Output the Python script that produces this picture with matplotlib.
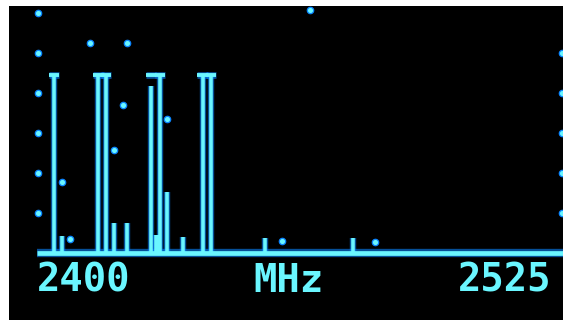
import matplotlib
matplotlib.use("Agg")
import matplotlib.pyplot as plt

# ---- data (frequency in MHz, level in display rows above baseline) ----
tall_freqs = [2403.9, 2414.6, 2416.5, 2429.6, 2440.0, 2442.0]
tall_levels = [44.5, 44.5, 44.5, 44.5, 44.5, 44.5]
mid_freqs = [2427.4]
mid_levels = [41.8]
hold_freqs = [2403.9, 2414.6, 2416.5, 2427.4, 2429.6, 2440.0, 2442.0]
hold_levels = [44.5, 44.5, 44.5, 44.5, 44.5, 44.5, 44.5]
small_freqs = [2405.8, 2418.4, 2421.6, 2428.6, 2429.1, 2431.3, 2435.2, 2455.1, 2476.5]
small_levels = [4.2, 7.5, 7.5, 4.5, 4.5, 15.2, 4.0, 3.7, 3.7]
dot_freqs = [2412.6, 2421.6, 2420.6, 2418.4, 2431.3, 2405.8, 2407.8, 2459.2, 2481.8, 2466.0]
dot_levels = [52.5, 52.5, 37.0, 25.7, 33.5, 17.7, 3.5, 3.0, 2.7, 60.7]
scale_levels_left = [10, 20, 30, 40, 50, 60]
scale_levels_right = [10, 20, 30, 40, 50]
f_start, f_end = 2400, 2525
unit_label = "MHz"

CORE = "#6af6ff"
GLOW = "#0a84ff"

fig = plt.figure(figsize=(5.63, 3.20), dpi=100)
fig.patch.set_facecolor("white")
ax = fig.add_axes([9 / 563, 0, 554 / 563, 314 / 320])
ax.set_facecolor("black")
ax.set_xlim(2392.96, 2527.43)
ax.set_ylim(-16.75, 61.75)
for s in ax.spines.values():
    s.set_visible(False)
ax.set_xticks([])
ax.set_yticks([])


def glow_vlines(xs, tops, lw=2.6):
    ax.vlines(xs, 0, tops, colors=GLOW, linewidth=lw + 2.0, alpha=0.6, zorder=2)
    ax.vlines(xs, 0, tops, colors=CORE, linewidth=lw, zorder=3)


glow_vlines(tall_freqs, tall_levels)
glow_vlines(mid_freqs, mid_levels)
glow_vlines(small_freqs, small_levels)

# peak-hold caps
cap_half = 1.3
x0 = [f - cap_half for f in hold_freqs]
x1 = [f + cap_half for f in hold_freqs]
ax.hlines(hold_levels, x0, x1, colors=GLOW, linewidth=4.8, alpha=0.6, zorder=2)
ax.hlines(hold_levels, x0, x1, colors=CORE, linewidth=2.8, zorder=3)

# baseline
ax.hlines(0, 2399.7, 2530, colors=GLOW, linewidth=6.0, alpha=0.6, zorder=2)
ax.hlines(0, 2399.7, 2530, colors=CORE, linewidth=3.4, zorder=3)

# scattered dots
dkw = dict(ms=4.6, color=CORE, mec=GLOW, mew=0.9, zorder=4, ls="none", marker="o")
ax.plot(dot_freqs, dot_levels, **dkw)
ax.plot([f_start] * len(scale_levels_left), scale_levels_left, **dkw)
ax.plot([2527.3] * len(scale_levels_right), scale_levels_right, **dkw)

# labels
fkw = dict(color=CORE, fontsize=28, fontfamily="DejaVu Sans Mono", fontweight="bold",
           va="baseline", zorder=5)
ax.text(f_start - 0.2, -9.75, str(f_start), ha="left", **fkw)
ax.text(2460.9, -9.75, unit_label, ha="center", **fkw)
ax.text(f_end - 0.3, -9.75, str(f_end), ha="right", **fkw)

fig.savefig("out.png", dpi=100, facecolor=fig.get_facecolor())
